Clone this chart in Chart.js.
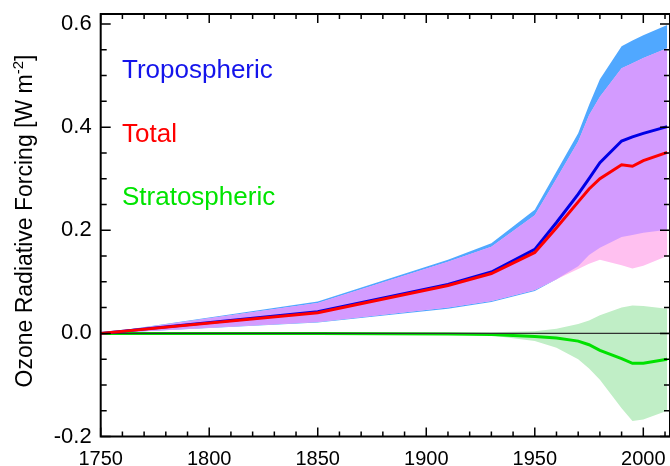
<!DOCTYPE html>
<html>
<head>
<meta charset="utf-8">
<script src="https://cdn.jsdelivr.net/npm/chart.js@4.4.1/dist/chart.umd.min.js"></script>
<style>
  html, body { margin: 0; padding: 0; background: #fff; }
  #wrap { width: 670px; height: 466px; position: relative; }
</style>
</head>
<body>
<div id="wrap"><canvas id="c"></canvas></div>
<script>
// ---- data ----
const years         = [1750, 1850, 1910, 1930, 1950, 1960, 1970, 1975, 1980, 1990, 1995, 2000, 2011];
const total         = [0, 0.040, 0.093, 0.116, 0.157, 0.205, 0.255, 0.280, 0.300, 0.327, 0.324, 0.335, 0.351];
const tropospheric  = [0, 0.042, 0.095, 0.119, 0.163, 0.215, 0.270, 0.300, 0.331, 0.373, 0.381, 0.388, 0.401];
const stratospheric = [0, 0, -0.001, -0.002, -0.006, -0.009, -0.015, -0.022, -0.033, -0.049, -0.058, -0.058, -0.050];
const tropHigh      = [0, 0.062, 0.143, 0.175, 0.240, 0.314, 0.388, 0.443, 0.493, 0.557, 0.568, 0.578, 0.598];
const tropLow       = [0, 0.021, 0.048, 0.061, 0.082, 0.105, 0.130, 0.152, 0.166, 0.187, 0.191, 0.195, 0.201];
const totalHigh     = [0, 0.059, 0.139, 0.168, 0.229, 0.300, 0.372, 0.423, 0.459, 0.514, 0.524, 0.534, 0.553];
const totalLow      = [0, 0.022, 0.050, 0.063, 0.084, 0.105, 0.125, 0.135, 0.143, 0.132, 0.126, 0.131, 0.150];
const stratHigh     = [0, 0, 0.001, 0.002, 0.004, 0.009, 0.018, 0.025, 0.035, 0.050, 0.054, 0.053, 0.048];
const stratLow      = [0, 0, -0.002, -0.004, -0.015, -0.028, -0.050, -0.068, -0.090, -0.145, -0.170, -0.167, -0.150];

const xTickValues = [1750, 1800, 1850, 1900, 1950, 2000];
const yTickValues = [-0.2, 0.0, 0.2, 0.4, 0.6];
const yTickLabels = ['-0.2', '0.0', '0.2', '0.4', '0.6'];

const seriesLabels = ['Tropospheric', 'Total', 'Stratospheric'];
const yTitleMain = 'Ozone Radiative Forcing [W m';
const yTitleSup = '-2';
const yTitleEnd = ']';

// overlap of the two uncertainty ranges (drawn purple)
const overlapHigh = tropHigh.map((v, i) => Math.min(v, totalHigh[i]));
const overlapLow  = tropLow.map((v, i) => Math.max(v, totalLow[i]));

const pts = arr => years.map((yr, i) => ({ x: yr, y: arr[i] }));

const FONT = "'Liberation Sans', Arial, Helvetica, sans-serif";

function band(data, color, order, fill) {
  return {
    data: pts(data), borderWidth: 0, pointRadius: 0, tension: 0,
    borderColor: 'rgba(0,0,0,0)', backgroundColor: color,
    fill: fill ? '+1' : false, order: order
  };
}

const frameTicks = {
  id: 'frameTicks',
  afterDatasetDraw(chart, args) {
    if (args.index !== 2) return;
    // zero line above the stratospheric line
    const ctx = chart.ctx, y = chart.scales.y, a = chart.chartArea;
    const y0 = y.getPixelForValue(0);
    ctx.save();
    ctx.strokeStyle = 'rgb(50,50,50)';
    ctx.lineWidth = 1.3;
    ctx.beginPath();
    ctx.moveTo(a.left, y0); ctx.lineTo(a.right, y0);
    ctx.stroke();
    ctx.restore();
  },
  afterDraw(chart) {
    const ctx = chart.ctx, x = chart.scales.x, y = chart.scales.y, a = chart.chartArea;
    ctx.save();
    ctx.strokeStyle = '#000';
    ctx.lineWidth = 1.5;
    // x ticks (bottom & top), inward
    for (let yr = 1750; yr <= x.max + 0.01; yr += 10) {
      const px = x.getPixelForValue(yr);
      const len = (yr % 50 === 0) ? 9 : 5;
      ctx.beginPath();
      ctx.moveTo(px, a.bottom); ctx.lineTo(px, a.bottom - len);
      ctx.moveTo(px, a.top); ctx.lineTo(px, a.top + len);
      ctx.stroke();
    }
    // y ticks (left & right), inward
    for (let k = -4; k <= 12; k++) {
      const v = k * 0.05;
      if (v > y.max + 1e-9) break;
      const py = y.getPixelForValue(v);
      const len = (k % 4 === 0) ? 10 : 6;
      ctx.beginPath();
      ctx.moveTo(a.left, py); ctx.lineTo(a.left + len, py);
      ctx.moveTo(a.right, py); ctx.lineTo(a.right - len, py);
      ctx.stroke();
    }
    // frame
    ctx.lineWidth = 2;
    ctx.strokeRect(a.left, a.top, a.right - a.left, a.bottom - a.top);

    // in-plot labels
    ctx.font = '26px ' + FONT;
    ctx.textBaseline = 'alphabetic';
    ctx.textAlign = 'left';
    ctx.fillStyle = 'rgb(20,20,235)';
    ctx.fillText(seriesLabels[0], 122, 78);
    ctx.fillStyle = 'rgb(255,0,0)';
    ctx.fillText(seriesLabels[1], 122, 141.5);
    ctx.fillStyle = 'rgb(0,228,0)';
    ctx.fillText(seriesLabels[2], 122, 205);

    // rotated y title with superscript
    ctx.fillStyle = '#000';
    const mainFont = '23px ' + FONT, supFont = '15px ' + FONT;
    ctx.font = mainFont; const w1 = ctx.measureText(yTitleMain).width;
    const w3 = ctx.measureText(yTitleEnd).width;
    ctx.font = supFont; const w2 = ctx.measureText(yTitleSup).width;
    const W = w1 + w2 + w3;
    ctx.translate(32, 221);
    ctx.rotate(-Math.PI / 2);
    let u = -W / 2;
    ctx.font = mainFont; ctx.fillText(yTitleMain, u, 0); u += w1;
    ctx.font = supFont; ctx.fillText(yTitleSup, u, -9); u += w2;
    ctx.font = mainFont; ctx.fillText(yTitleEnd, u, 0);
    ctx.restore();
  }
};

new Chart(document.getElementById('c'), {
  type: 'line',
  data: {
    datasets: [
      { data: pts(total), borderColor: 'rgb(255,0,0)', borderWidth: 3, pointRadius: 0, tension: 0, fill: false, order: 0 },
      { data: pts(tropospheric), borderColor: 'rgb(0,0,230)', borderWidth: 3, pointRadius: 0, tension: 0, fill: false, order: 1 },
      { data: pts(stratospheric), borderColor: 'rgb(0,225,0)', borderWidth: 3, pointRadius: 0, tension: 0, fill: false, order: 2 },
      band(stratHigh, 'rgb(192,238,198)', 3, true),
      band(stratLow, 'rgba(0,0,0,0)', 4, false),
      band(overlapHigh, 'rgb(211,155,255)', 5, true),
      band(overlapLow, 'rgba(0,0,0,0)', 6, false),
      band(totalHigh, 'rgb(255,192,240)', 7, true),
      band(totalLow, 'rgba(0,0,0,0)', 8, false),
      band(tropHigh, 'rgb(80,168,255)', 9, true),
      band(tropLow, 'rgba(0,0,0,0)', 10, false)
    ]
  },
  options: {
    responsive: true,
    maintainAspectRatio: false,
    animation: false,
    devicePixelRatio: 1,
    layout: { padding: { top: 14, right: 0, left: 0, bottom: 0 } },
    plugins: { legend: { display: false }, tooltip: { enabled: false } },
    scales: {
      x: {
        type: 'linear', min: 1750, max: 2012.3,
        grid: { display: false, drawTicks: false },
        border: { display: false },
        afterBuildTicks: s => { s.ticks = xTickValues.map(v => ({ value: v })); },
        afterFit: s => { s.height = 29.5; s.paddingLeft = 0; s.paddingRight = 0; },
        ticks: { font: { family: FONT, size: 20 }, color: '#000', padding: 10.5, maxRotation: 0,
                 callback: v => String(v) }
      },
      y: {
        type: 'linear', min: -0.2, max: 0.6194,
        grid: { display: false, drawTicks: false },
        border: { display: false },
        afterBuildTicks: s => { s.ticks = yTickValues.map(v => ({ value: v })); },
        afterFit: s => { s.width = 100.7; s.paddingTop = 0; s.paddingBottom = 0; },
        ticks: { font: { family: FONT, size: 22 }, color: '#000', padding: 9,
                 callback: v => yTickLabels[yTickValues.findIndex(t => Math.abs(t - v) < 1e-9)] }
      }
    }
  },
  plugins: [frameTicks]
});
</script>
</body>
</html>
